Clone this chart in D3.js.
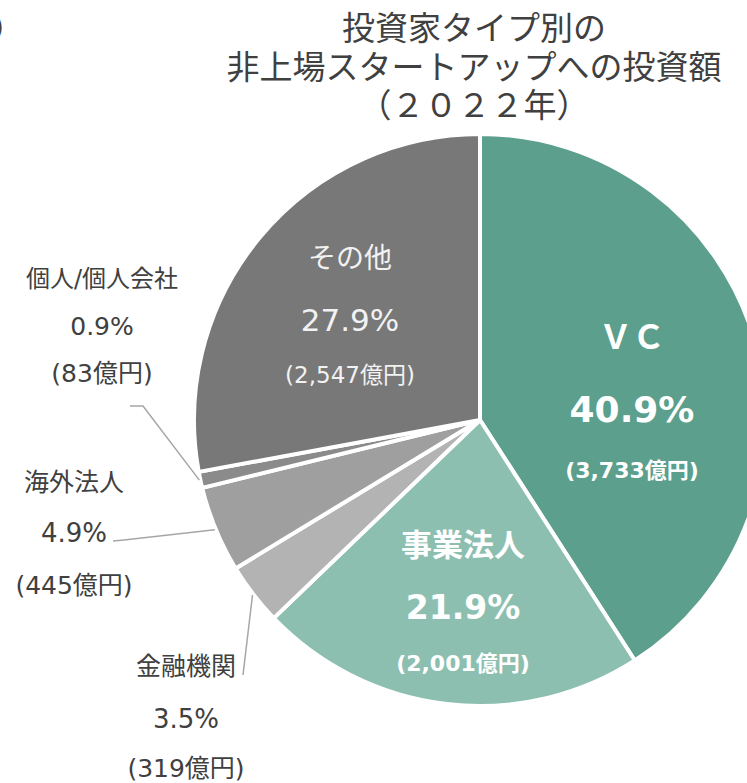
<!DOCTYPE html>
<html>
<head>
<meta charset="utf-8">
<script src="https://cdn.jsdelivr.net/npm/d3@7"></script>
<style>
  body { margin: 0; background: #fff; }
  svg { display: block; }
</style>
</head>
<body>
<svg id="chart" width="747" height="783"></svg>
<script>
// data (億円)
const categories = ["ＶＣ", "事業法人", "金融機関", "海外法人", "個人/個人会社", "その他"]
const amounts = [3733, 2001, 319, 445, 83, 2547]
const shares = ["40.9%", "21.9%", "3.5%", "4.9%", "0.9%", "27.9%"]
const amountLabels = ["(3,733億円)", "(2,001億円)", "(319億円)", "(445億円)", "(83億円)", "(2,547億円)"]
const titleLines = ["投資家タイプ別の", "非上場スタートアップへの投資額", "（２０２２年）"]

const colors = ["#5b9f8c", "#8dbfb1", "#b3b3b3", "#9f9f9f", "#8b8b8b", "#787878"]

const width = 747, height = 783
const cx = 480, cy = 420, radius = 286
const latin = "'DejaVu Sans', 'Noto Sans CJK JP', sans-serif"

// label layout: x, y of the 3 lines, font sizes, leader start points
const labelPos = [
    {x: 632, ys: [337, 409, 470], inside: true, bold: true, sizes: [33, 36, 22]},
    {x: 463, ys: [545, 607, 663], inside: true, bold: true, sizes: [31, 33, 22]},
    {x: 186, ys: [666, 719, 768], inside: false, sizes: [25, 26, 25], lead: [243, 675, 243, 675]},
    {x: 74,  ys: [482, 533, 585], inside: false, sizes: [25, 26, 25], lead: [113, 541, 124, 540]},
    {x: 102, ys: [279, 326, 373], inside: false, sizes: [24, 25, 25], lead: [130, 406, 143, 406]},
    {x: 350, ys: [258, 320, 375], inside: true, bold: false, sizes: [28, 31, 23]}
]

const svg = d3.select("#chart")

// clipped text at the left edge
svg.append("text")
    .attr("x", 4).attr("y", 37)
    .attr("text-anchor", "end")
    .attr("font-family", latin).attr("font-size", 28).attr("fill", "#404040")
    .text(")")

// title, one text with three lines
const title = svg.append("text")
    .attr("text-anchor", "middle")
    .attr("font-family", "'Noto Sans CJK JP', sans-serif")
    .attr("font-size", 33)
    .attr("fill", "#404040")

title.selectAll("tspan")
    .data(titleLines)
    .join("tspan")
    .attr("x", 474)
    .attr("y", (d, i) => 40 + i * 38.5)
    .text(d => d)

const data = categories.map((c, i) => ({
    name: c, value: amounts[i], share: shares[i], amt: amountLabels[i], color: colors[i], pos: labelPos[i]
}))

const pie = d3.pie().sort(null).value(d => d.value)
const arcs = pie(data)
const arc = d3.arc().innerRadius(0).outerRadius(radius)

const g = svg.append("g").attr("transform", `translate(${cx},${cy})`)

g.selectAll("path")
    .data(arcs)
    .join("path")
    .attr("d", arc)
    .attr("fill", d => d.data.color)
    .attr("stroke", "#fff")
    .attr("stroke-width", 4)
    .attr("stroke-linejoin", "round")

// leader lines for outside labels
arcs.filter(d => d.data.pos.lead).forEach(d => {
    const mid = (d.startAngle + d.endAngle) / 2
    const r = radius + 1
    const ex = cx + r * Math.sin(mid), ey = cy - r * Math.cos(mid)
    const l = d.data.pos.lead
    svg.append("polyline")
        .attr("points", `${l[0]},${l[1]} ${l[2]},${l[3]} ${ex},${ey}`)
        .attr("fill", "none")
        .attr("stroke", "#a6a6a6")
        .attr("stroke-width", 1.5)
})

// labels
data.forEach(d => {
    const p = d.pos
    const lines = [d.name, d.share, d.amt]
    const fill = p.inside ? (p.bold ? "#ffffff" : "#f2f2f2") : "#404040"
    lines.forEach((t, i) => {
        svg.append("text")
            .attr("x", p.x)
            .attr("y", p.ys[i])
            .attr("dominant-baseline", "central")
            .attr("text-anchor", "middle")
            .attr("font-family", latin)
            .attr("font-weight", p.bold ? "bold" : "normal")
            .attr("font-size", p.sizes[i])
            .attr("fill", fill)
            .text(t)
    })
})
</script>
</body>
</html>
